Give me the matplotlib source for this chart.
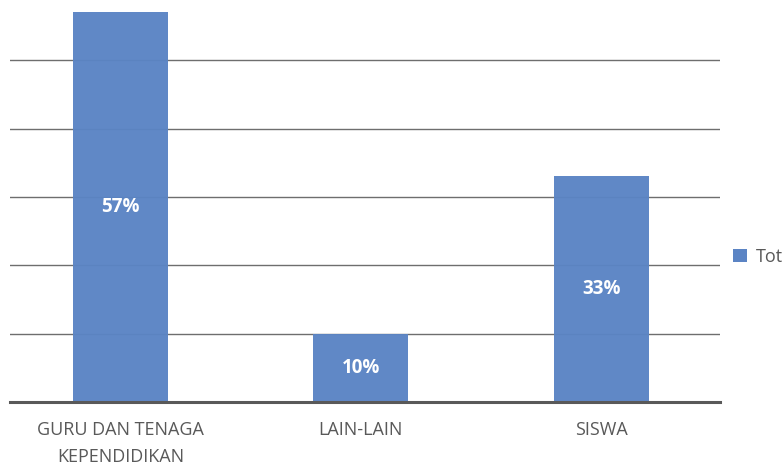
import matplotlib
matplotlib.use("Agg")
import matplotlib.pyplot as plt
from matplotlib.patches import Patch

categories = ["GURU DAN TENAGA\nKEPENDIDIKAN", "LAIN-LAIN", "SISWA"]
values = [57, 10, 33]
labels = ["57%", "10%", "33%"]
series_name = "Total"

bar_color = "#5B84C4"
text_color = "#595959"

fig = plt.figure(figsize=(7.83, 4.65), dpi=100)
ax = fig.add_axes([10/783, 1 - 402/465, 710/783, 402/465])

x = list(range(len(categories)))
ax.set_axisbelow(True)
for g in [10, 20, 30, 40, 50]:
    ax.axhline(g, color="#6e6e6e", linewidth=1, zorder=0)
bars = ax.bar(x, values, width=0.395, color=bar_color, zorder=2, alpha=0.97)
for xi, v, lab in zip(x, values, labels):
    ax.text(xi, v / 2, lab, ha="center", va="center", color="white",
            fontsize=13.5, fontweight="bold", family="Open Sans", zorder=3)

ax.set_xlim(-0.459, 2.493)
ax.set_ylim(0, 58.8)
ax.axhline(0, color="#595959", linewidth=2.2, zorder=4, clip_on=False)
for s in ax.spines.values():
    s.set_visible(False)
ax.set_yticks([])
ax.set_xticks(x)
ax.set_xticklabels(categories, fontsize=13, color=text_color, family="Open Sans",
                   linespacing=1.6)
ax.tick_params(axis="x", length=0, pad=14)

fig.legend(handles=[Patch(facecolor=bar_color, edgecolor="none", label=series_name)],
           loc="center left", bbox_to_anchor=(717/783, 1 - 257/465), frameon=False,
           fontsize=13, labelcolor=text_color, handlelength=0.75, handleheight=0.75,
           handletextpad=0.5, prop={"family": "Open Sans", "size": 13})

fig.savefig("out.png", dpi=100)
